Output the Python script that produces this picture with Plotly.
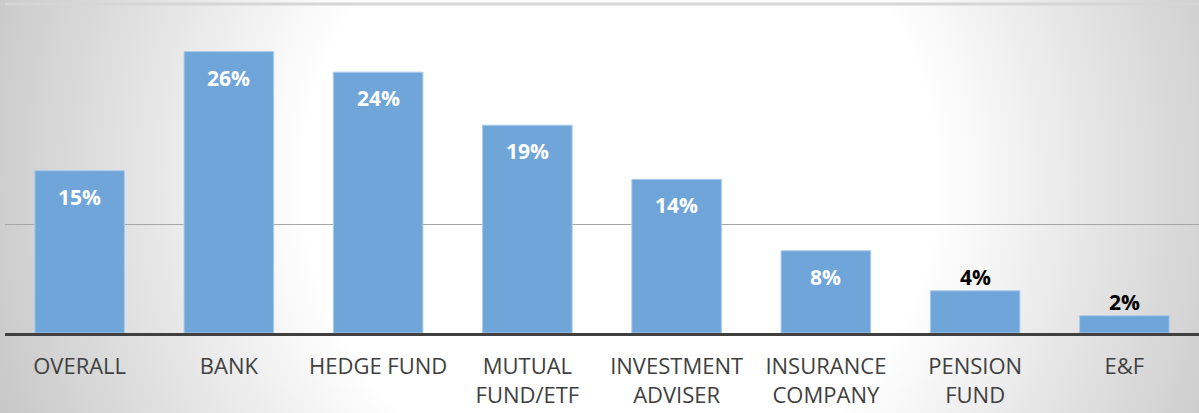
import base64
import plotly.graph_objects as go

# dados
categorias = ["OVERALL", "BANK", "HEDGE FUND", "MUTUAL<br>FUND/ETF", "INVESTMENT<br>ADVISER",
              "INSURANCE<br>COMPANY", "PENSION<br>FUND", "E&F"]
valores = [15.0, 26.0, 24.1, 19.2, 14.2, 7.6, 3.9, 1.6]
rotulos = ["15%", "26%", "24%", "19%", "14%", "8%", "4%", "2%"]

W, H = 1199, 413
M = dict(l=5, r=0, t=4, b=80)
pw = W - M["l"] - M["r"]
ph = H - M["t"] - M["b"]

# fundo com gradiente radial (branco no centro, cinza nas bordas)
svg = (
    '<svg xmlns="http://www.w3.org/2000/svg" width="1199" height="413" preserveAspectRatio="none">'
    '<defs><radialGradient id="g" gradientUnits="userSpaceOnUse" cx="620" cy="180" r="660">'
    '<stop offset="0" stop-color="#ffffff"/>'
    '<stop offset="0.48" stop-color="#ffffff"/>'
    '<stop offset="1" stop-color="#c8c8c8"/>'
    '</radialGradient></defs>'
    '<rect width="1199" height="413" fill="url(#g)"/></svg>'
)
fundo = "data:image/svg+xml;base64," + base64.b64encode(svg.encode()).decode()

fig = go.Figure()
fig.add_trace(go.Bar(
    x=categorias, y=valores,
    marker=dict(color="#6fa5d9", line=dict(color="#a9cbec", width=1)),
    hoverinfo="skip",
))

# rótulos de dados: dentro (brancos) para barras grandes, acima (pretos) para as pequenas
for c, v, t in zip(categorias, valores, rotulos):
    if v >= 6:
        fig.add_annotation(x=c, y=v, text="<b>" + t + "</b>", showarrow=False, yanchor="middle", yshift=-26,
                           font=dict(color="white", size=21, family="Open Sans"))
    else:
        fig.add_annotation(x=c, y=v, text="<b>" + t + "</b>", showarrow=False, yanchor="middle", yshift=14,
                           font=dict(color="black", size=21, family="Open Sans"))

fig.update_layout(
    width=W, height=H, margin=M,
    paper_bgcolor="white", plot_bgcolor="rgba(0,0,0,0)",
    bargap=0.4, showlegend=False,
    font=dict(family="Open Sans", size=22, color="#404040"),
    images=[dict(source=fundo, xref="paper", yref="paper",
                 x=-M["l"] / pw, y=1 + M["t"] / ph, sizex=W / pw, sizey=H / ph,
                 xanchor="left", yanchor="top", sizing="stretch", layer="below")],
    shapes=[dict(type="line", xref="paper", yref="paper", x0=0, x1=1, y0=1, y1=1,
                 line=dict(color="#d6d6d6", width=3))],
)
fig.update_xaxes(showline=True, linecolor="#404040", linewidth=2.5,
                 ticks="outside", ticklen=12, tickcolor="rgba(0,0,0,0)",
                 tickfont=dict(size=22, color="#404040", family="Open Sans"))
fig.update_yaxes(range=[0, 30.4], showticklabels=False, zeroline=False,
                 tickvals=[10], gridcolor="#a6a6a6", gridwidth=1)

# sem a margem padrão do <body>, para a figura ocupar a janela inteira
fig.write_html("out.html", config={"displayModeBar": False},
               post_script="document.body.style.margin='0';")
